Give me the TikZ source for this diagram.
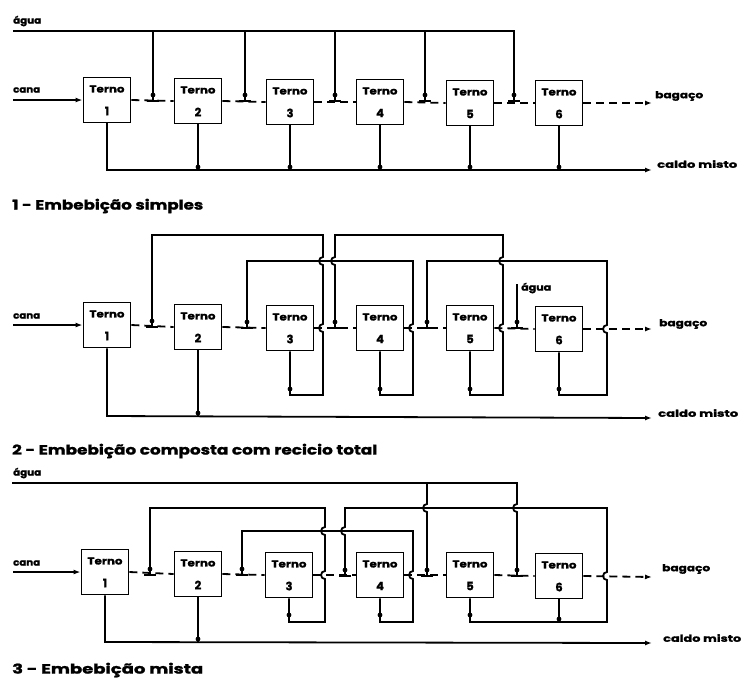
\documentclass[tikz,border=0pt]{standalone}
\usepackage{fontspec}
\setmainfont{Poppins}[BoldFeatures={FakeBold=1.3}]
\usetikzlibrary{arrows.meta}
\newcommand\fitw[2]{\resizebox{#1}{\height}{#2}}
\newcommand\terno[4]{%
  \node[box] (#1) at (#2,#3) {};
  \node[tn] (#1t) at (#2,#3-11) {\fitw{35pt}{Terno}};
  \node[tnum] (#1n) at (#2,#3+11) {#4};
}
\newcommand\dropend[2]{%
  \fill (#1,#2-6) circle (2.4pt);
  \draw[flow] (#1-6,#2) -- (#1+6,#2);
}
\newcommand\jdot[2]{\fill (#1,#2) circle (2.4pt);}
\begin{document}
\begin{tikzpicture}[x=1pt,y=-1pt,
  flow/.style={line width=1.8pt},
  dflow/.style={line width=1.8pt, dash pattern=on 8pt off 5pt},
  tip/.style={-{Latex[length=7pt,width=5pt]}},
  box/.style={draw, line width=1.9pt, minimum width=47pt, minimum height=45pt, inner sep=0pt},
  lab/.style={font=\bfseries\fontsize{9.5}{10}\selectfont, inner sep=0pt, anchor=west},
  captxt/.style={font=\bfseries\fontsize{13.5}{14}\selectfont, inner sep=0pt, anchor=west},
  tn/.style={font=\bfseries\fontsize{10}{10}\selectfont, inner sep=0pt},
  tnum/.style={font=\bfseries\fontsize{11.5}{11}\selectfont, inner sep=0pt},
]
\useasboundingbox (0,0) rectangle (741,681);

% ================= Diagram 1 =================
\terno{a1}{107}{100}{1}
\terno{a2}{198}{101}{2}
\terno{a3}{290}{102}{3}
\terno{a4}{380}{102}{4}
\terno{a5}{470}{103}{5}
\terno{a6}{559}{103}{6}
\node[lab] (agua1) at (13,21) {\fitw{28pt}{água}};
\node[lab] (cana1) at (13,90) {\fitw{27pt}{cana}};
\node[lab] (bag1) at (655,96) {\fitw{48pt}{bagaço}};
\node[lab] (cm1) at (657,164) {\fitw{80pt}{caldo misto}};
\node[captxt] (cap1) at (12,206) {\fitw{191pt}{1 - Embebição simples}};

\draw[flow,tip] (13,100) -- (a1.west);
\draw[flow] (13,31) -- (514,31) -- (514,101);
\dropend{514}{101}
\foreach \x in {153,245,335,425}{
  \draw[flow] (\x,31) -- (\x,101);
  \dropend{\x}{101}
}
\draw[dflow] (a1.east) -- (a2.west);
\draw[dflow] (a2.east) -- (a3.west);
\draw[dflow] (a3.east) -- (a4.west);
\draw[dflow] (a4.east) -- (a5.west);
\draw[dflow] (a5.east) -- (a6.west);
\draw[dflow,tip] (a6.east) -- (652,103);
\draw[flow,tip] (a1.south) -- (107,170) -- (652,170);
\foreach \n/\x in {a2/198,a3/290,a4/380,a5/470,a6/559}{
  \draw[flow] (\n.south) -- (\x,170);
  \jdot{\x}{167}
}

% ================= Diagram 2 =================
\terno{b1}{107}{325}{1}
\terno{b2}{198}{327}{2}
\terno{b3}{290}{328}{3}
\terno{b4}{380}{328}{4}
\terno{b5}{470}{328}{5}
\terno{b6}{559}{329}{6}
\node[lab] (cana2) at (13,316) {\fitw{27pt}{cana}};
\node[lab] (agua2) at (521,288) {\fitw{30pt}{água}};
\node[lab] (bag2) at (659,324) {\fitw{48pt}{bagaço}};
\node[lab] (cm2) at (658,413) {\fitw{80pt}{caldo misto}};
\node[captxt] (cap2) at (12,451) {\fitw{365pt}{2 - Embebição composta com recicio total}};

\draw[flow,tip] (13,325) -- (b1.west);
\draw[dflow] (b1.east) -- (b2.west);
\draw[dflow] (b2.east) -- (b3.west);
\draw[dflow] (b3.east) -- (b4.west);
\draw[dflow] (b4.east) -- (b5.west);
\draw[dflow] (b5.east) -- (b6.west);
\draw[dflow,tip] (b6.east) -- (652,329);
% loop 3
\draw[flow] (b3.south) -- (290,395) -- (323,395) -- (323,332)
  arc[start angle=90,end angle=270,radius=4] -- (323,265)
  arc[start angle=90,end angle=270,radius=4] -- (323,235) -- (152,235) -- (152,327);
\dropend{152}{327}
\jdot{290}{389}
% loop 4
\draw[flow] (b4.south) -- (380,395) -- (413,395) -- (413,332)
  arc[start angle=90,end angle=270,radius=4] -- (413,261) -- (247,261) -- (247,328);
\dropend{247}{328}
\jdot{380}{389}
% loop 5
\draw[flow] (b5.south) -- (470,395) -- (503,395) -- (503,332)
  arc[start angle=90,end angle=270,radius=4] -- (503,265)
  arc[start angle=90,end angle=270,radius=4] -- (503,235) -- (335,235) -- (335,257)
  arc[start angle=270,end angle=90,radius=4] -- (335,328);
\dropend{335}{328}
\jdot{470}{389}
% loop 6
\draw[flow] (b6.south) -- (559,395) -- (607,395) -- (607,333)
  arc[start angle=90,end angle=270,radius=4] -- (607,261) -- (427,261) -- (427,328);
\dropend{427}{328}
\jdot{559}{389}
% water
\draw[flow] (517,284) -- (517,328);
\dropend{517}{328}
% caldo misto
\draw[flow,tip] (b1.south) -- (107,416) -- (652,418);
\draw[flow] (b2.south) -- (198,416);
\jdot{198}{413}

% ================= Diagram 3 =================
\terno{c1}{105}{572}{1}
\terno{c2}{198}{574}{2}
\terno{c3}{289}{575}{3}
\terno{c4}{380}{575}{4}
\terno{c5}{470}{575}{5}
\terno{c6}{559}{576}{6}
\node[lab] (agua3) at (13,473) {\fitw{28pt}{água}};
\node[lab] (cana3) at (13,563) {\fitw{27pt}{cana}};
\node[lab] (bag3) at (662,569) {\fitw{48pt}{bagaço}};
\node[lab] (cm3) at (663,638) {\fitw{78pt}{caldo misto}};
\node[captxt] (cap3) at (12,670) {\fitw{191pt}{3 - Embebição mista}};

\draw[flow,tip] (13,572) -- (c1.west);
\draw[dflow] (c1.east) -- (c2.west);
\draw[dflow] (c2.east) -- (c3.west);
\draw[dflow] (c3.east) -- (c4.west);
\draw[dflow] (c4.east) -- (c5.west);
\draw[dflow] (c5.east) -- (c6.west);
\draw[dflow,tip] (c6.east) -- (652,577);
% water
\draw[flow] (12,483) -- (517,483) -- (517,504)
  arc[start angle=270,end angle=90,radius=4] -- (517,576);
\dropend{517}{576}
\draw[flow] (427,483) -- (427,504)
  arc[start angle=270,end angle=90,radius=4] -- (427,576);
\dropend{427}{576}
% loop 3
\draw[flow] (c3.south) -- (289,622) -- (325,622) -- (325,579)
  arc[start angle=90,end angle=270,radius=4] -- (325,535)
  arc[start angle=90,end angle=270,radius=4] -- (325,508) -- (150,508) -- (150,575);
\dropend{150}{575}
\jdot{289}{615}
% loop 4
\draw[flow] (c4.south) -- (380,622) -- (413,622) -- (413,579)
  arc[start angle=90,end angle=270,radius=4] -- (413,531) -- (242,531) -- (242,575);
\dropend{242}{575}
\jdot{380}{615}
% loop 5+6
\draw[flow] (c5.south) -- (470,622) -- (607,622) -- (607,580)
  arc[start angle=90,end angle=270,radius=4] -- (607,508) -- (345,508) -- (345,527)
  arc[start angle=270,end angle=90,radius=4] -- (345,576);
\dropend{345}{576}
\jdot{470}{615}
\draw[flow] (c6.south) -- (559,622);
\jdot{559}{619}
% caldo misto
\draw[flow,tip] (c1.south) -- (105,642) -- (652,643);
\draw[flow] (c2.south) -- (198,642);
\jdot{198}{639}
\end{tikzpicture}
\end{document}
